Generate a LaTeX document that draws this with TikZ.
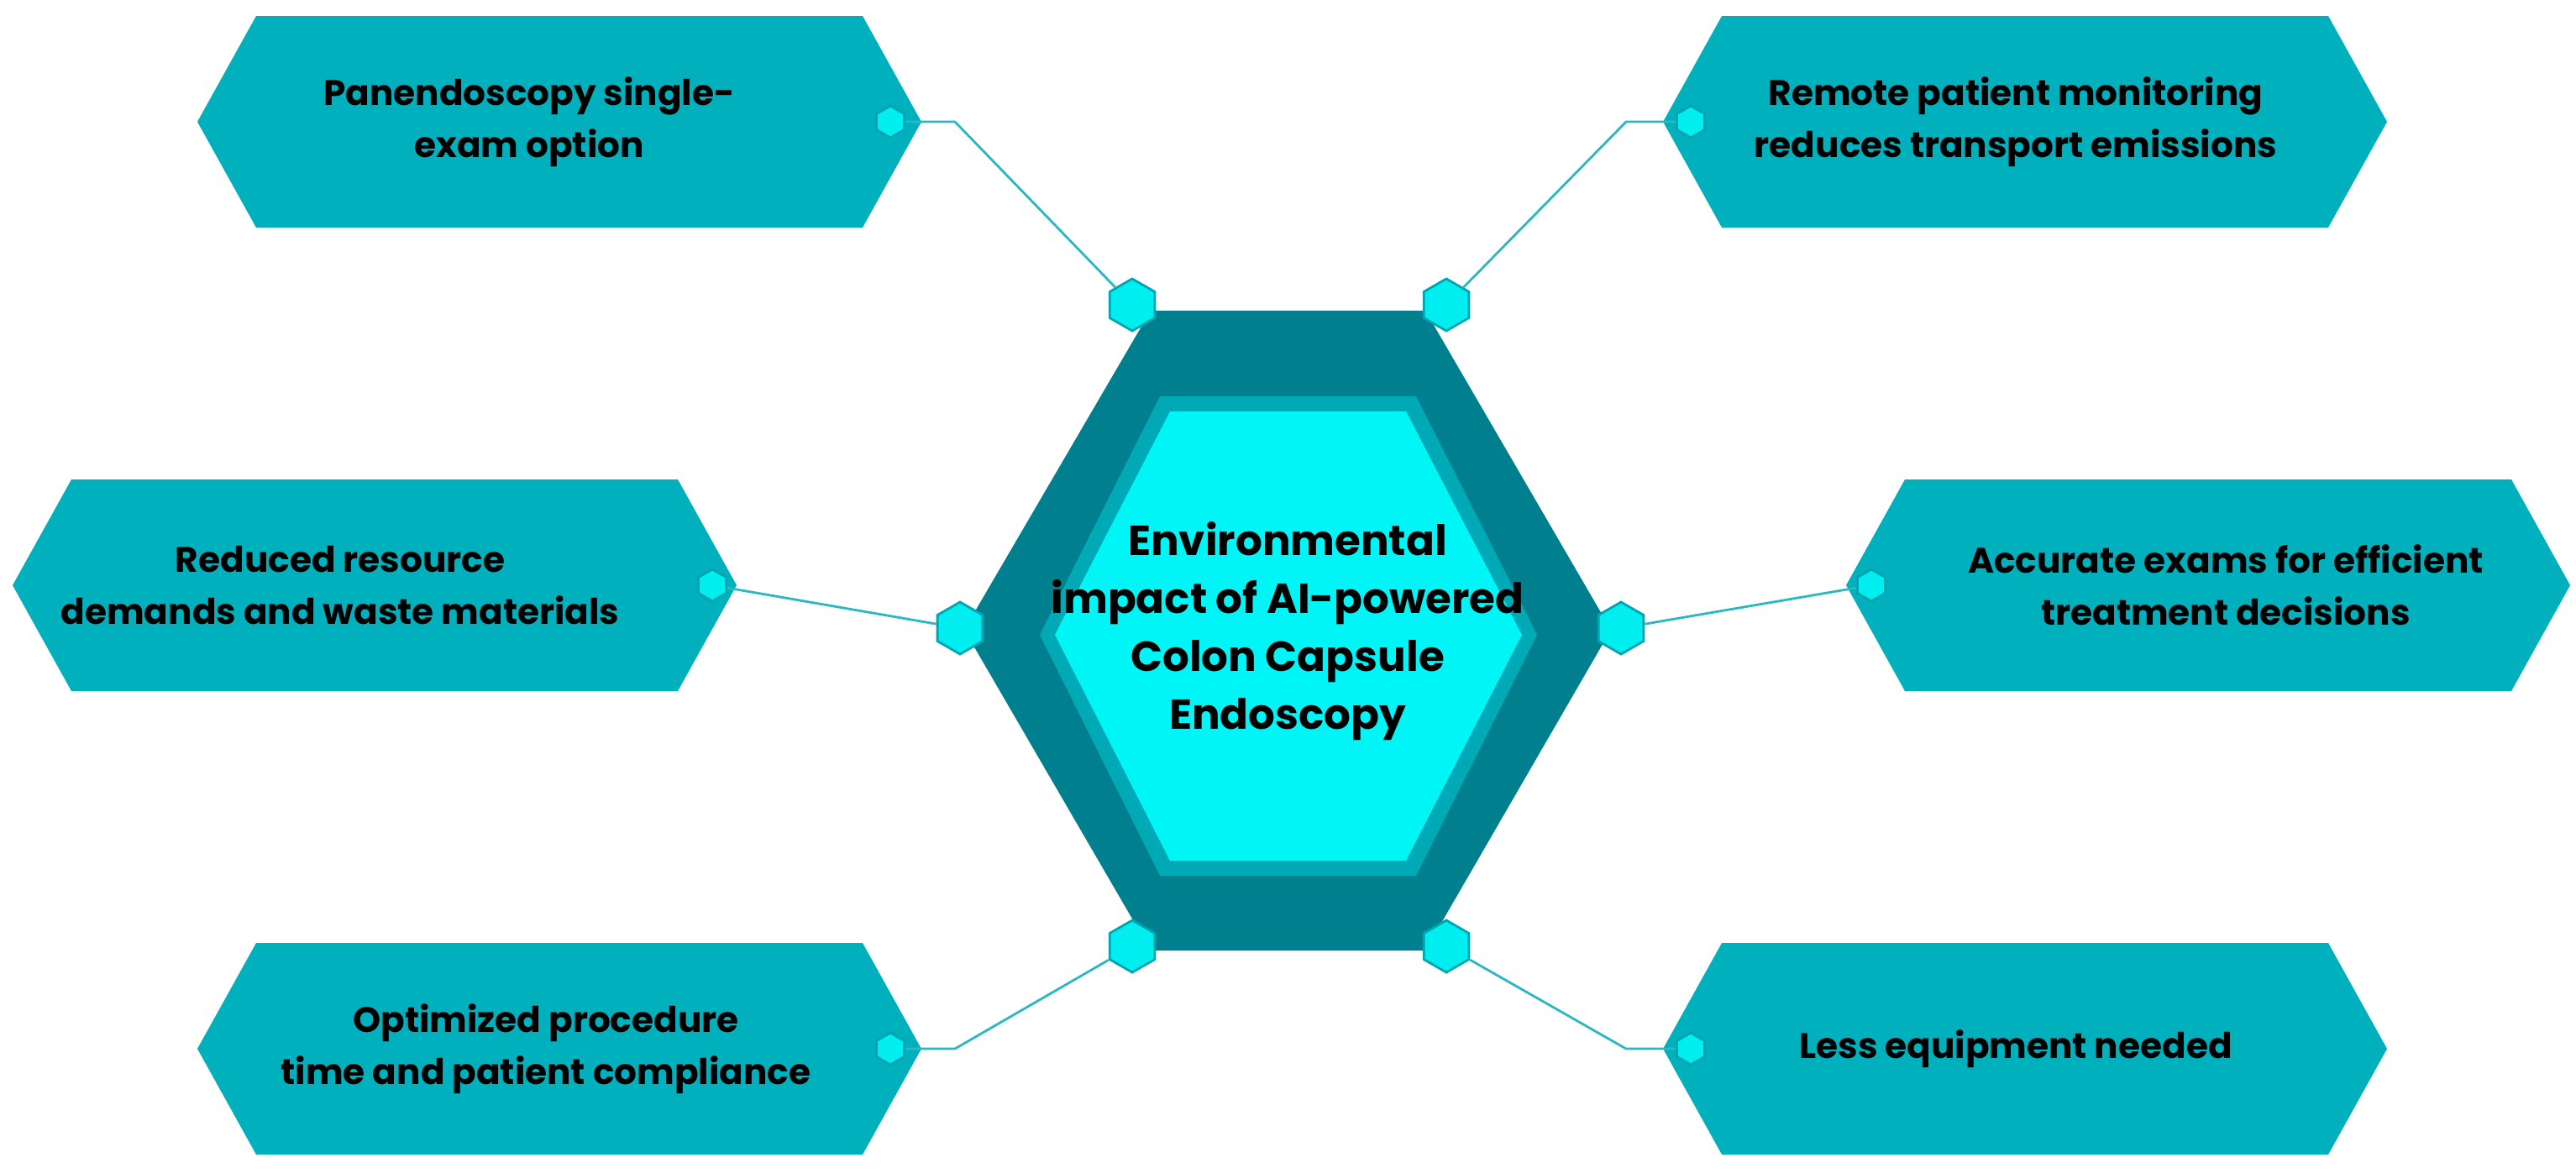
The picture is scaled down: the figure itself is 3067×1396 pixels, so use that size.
\documentclass[tikz,border=0pt]{standalone}
\usepackage{fontspec}
\setmainfont{Poppins}
\usetikzlibrary{shapes.geometric}
\definecolor{boxc}{HTML}{00B1BD}
\definecolor{outerc}{HTML}{00808F}
\definecolor{ringc}{HTML}{00A9B6}
\definecolor{innerc}{HTML}{00F6F6}
\definecolor{hexc}{HTML}{00EEF0}
\definecolor{hexe}{HTML}{00A5B2}
\definecolor{linec}{HTML}{2BB8C2}
\begin{document}
\begin{tikzpicture}[x=0.01cm,y=-0.01cm,
  lbl/.style={align=center,font=\bfseries\fontsize{12}{17.5}\selectfont,text=black},
  sh/.style={regular polygon,regular polygon sides=6,shape border rotate=30,fill=hexc,draw=hexe,line width=0.8pt,inner sep=0pt,minimum size=#1},
  conn/.style={draw=linec,line width=0.8pt}]
\useasboundingbox (0,0) rectangle (3067,1396);
\newcommand{\bx}[3]{% cx cy
  \fill[boxc] (#1-431,#2) -- (#1-361,#2-126) -- (#1+361,#2-126) -- (#1+431,#2) -- (#1+361,#2+126) -- (#1-361,#2+126) -- cycle;
  \node[lbl] (#3) at (#1,#2) {};}
\bx{666}{145}{b1}
\bx{446}{697}{b2}
\bx{666}{1249}{b3}
\bx{2411}{145}{b4}
\bx{2629}{697}{b5}
\bx{2411}{1249}{b6}
\node[lbl] at (630,145) {Panendoscopy single-\\exam option};
\node[lbl] at (405,697) {Reduced resource\\demands and waste materials};
\node[lbl] at (650,1249) {Optimized procedure\\time and patient compliance};
\node[lbl] at (2400,145) {Remote patient monitoring\\reduces transport emissions};
\node[lbl] at (2650,697) {Accurate exams for efficient\\treatment decisions};
\node[lbl] at (2400,1249) {Less equipment needed};
% center
\fill[outerc] (1370,370) -- (1697,370) -- (1918,750) -- (1697,1132) -- (1370,1132) -- (1148,750) -- cycle;
\fill[ringc] (1381,472) -- (1686,472) -- (1830,756) -- (1686,1043) -- (1381,1043) -- (1238,756) -- cycle;
\fill[innerc] (1393,490) -- (1674,490) -- (1812,756) -- (1674,1025) -- (1393,1025) -- (1256,756) -- cycle;
\node[align=center,font=\bfseries\fontsize{14.2}{19.6}\selectfont] (c) at (1533,752) {Environmental\\impact of AI-powered\\Colon Capsule\\Endoscopy};
% connector hexes
\node[sh=0.62cm] (h1) at (1348,363) {};
\node[sh=0.62cm] (h2) at (1143,748) {};
\node[sh=0.62cm] (h3) at (1348,1127) {};
\node[sh=0.62cm] (h4) at (1722,363) {};
\node[sh=0.62cm] (h5) at (1930,748) {};
\node[sh=0.62cm] (h6) at (1722,1127) {};
\node[sh=0.38cm] (s1) at (1060,145) {};
\node[sh=0.38cm] (s2) at (848,697) {};
\node[sh=0.38cm] (s3) at (1060,1249) {};
\node[sh=0.38cm] (s4) at (2013,145) {};
\node[sh=0.38cm] (s5) at (2228,697) {};
\node[sh=0.38cm] (s6) at (2013,1249) {};
\coordinate (k1) at (1137,145);
\coordinate (k3) at (1137,1249);
\coordinate (k4) at (1936,145);
\coordinate (k6) at (1936,1249);
\draw[conn] (s1) -- (k1) -- (h1);
\draw[conn] (s2) -- (h2);
\draw[conn] (s3) -- (k3) -- (h3);
\draw[conn] (s4) -- (k4) -- (h4);
\draw[conn] (s5) -- (h5);
\draw[conn] (s6) -- (k6) -- (h6);
\end{tikzpicture}
\end{document}
